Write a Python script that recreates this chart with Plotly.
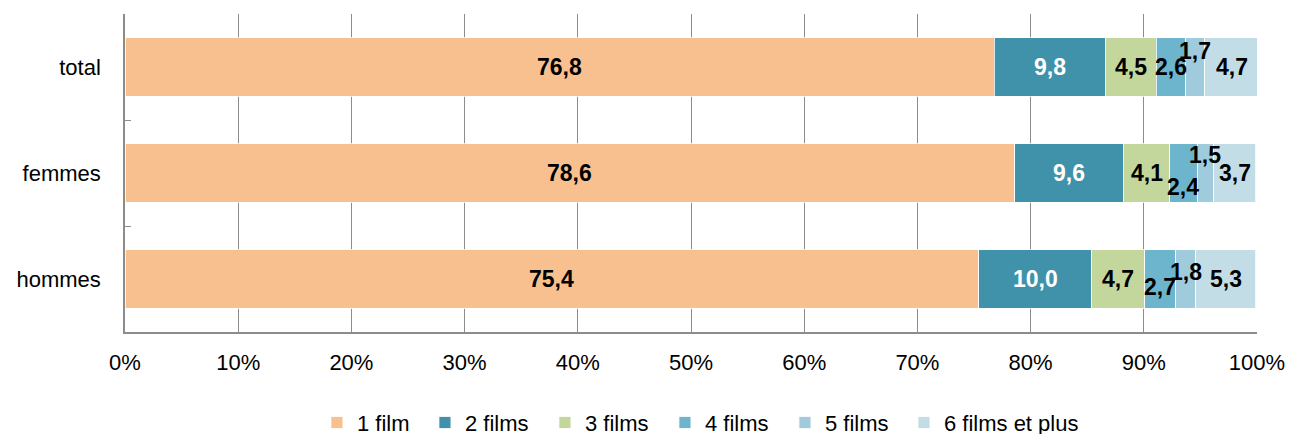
import plotly.graph_objects as go
import numpy as np

categories = ["total", "femmes", "hommes"]
series_names = ["1 film", "2 films", "3 films", "4 films", "5 films", "6 films et plus"]
v_1 = [76.8, 78.6, 75.4]
v_2 = [9.8, 9.6, 10.0]
v_3 = [4.5, 4.1, 4.7]
v_4 = [2.6, 2.4, 2.7]
v_5 = [1.7, 1.5, 1.8]
v_6 = [4.7, 3.7, 5.3]
x_ticks = [0, 10, 20, 30, 40, 50, 60, 70, 80, 90, 100]
x_tick_labels = ["0%", "10%", "20%", "30%", "40%", "50%", "60%", "70%", "80%", "90%", "100%"]

series = [v_1, v_2, v_3, v_4, v_5, v_6]
colors = ["#F9C08F", "#3F92AA", "#C3D69B", "#6CB5CC", "#A0CBDC", "#C3DDE6"]
label_colors = ["black", "white", "black", "black", "black", "black"]
legend_widths = [63, 75, 75, 75, 74, 150]  # px per legend entry (style)
# vertical label offsets (px) per series per category, to avoid overlap in thin segments
label_yshift = [
    [0, 0, 0],
    [0, 0, 0],
    [0, 0, 0],
    [0, -14, -8],
    [16, 18, 7],
    [0, 0, 0],
]

font = "Liberation Sans, Arial, sans-serif"
fig = go.Figure()
for name, vals, col, lw in zip(series_names, series, colors, legend_widths):
    fig.add_trace(go.Bar(
        y=categories, x=vals, name=name, orientation="h",
        marker=dict(color=col, line=dict(color="white", width=0.8)),
        hoverinfo="skip", legendwidth=lw,
    ))

cum = np.zeros(len(categories))
for si, vals in enumerate(series):
    v = np.array(vals)
    centers = cum + v / 2
    for ci, cat in enumerate(categories):
        fig.add_annotation(
            x=centers[ci], y=cat, text=f"{vals[ci]:.1f}".replace(".", ","),
            showarrow=False, yshift=label_yshift[si][ci],
            font=dict(family=font, size=23, color=label_colors[si], weight="bold"),
        )
    cum = cum + v

fig.update_layout(
    barmode="stack", bargap=0.45,
    width=1290, height=434,
    margin=dict(l=125, r=33, t=14, b=102, autoexpand=False),
    paper_bgcolor="white", plot_bgcolor="white",
    font=dict(family=font, size=22, color="black"),
    legend=dict(orientation="h", xref="container", x=0.2457, xanchor="left",
                yref="container", y=0.026, yanchor="middle",
                font=dict(size=22), traceorder="normal", itemwidth=30,
                tracegroupgap=0),
    showlegend=True,
)
fig.update_xaxes(
    range=[0, 100], tickvals=x_ticks, ticktext=x_tick_labels,
    showgrid=True, gridcolor="#8C8C8C", gridwidth=1,
    showline=True, linecolor="#8C8C8C", linewidth=1.5,
    ticks="outside", ticklen=10, tickcolor="rgba(0,0,0,0)",
    zeroline=False, fixedrange=True, automargin=False,
)
fig.update_yaxes(
    categoryorder="array", categoryarray=categories, autorange="reversed",
    showline=True, linecolor="#8C8C8C", linewidth=1.5,
    ticks="inside", tickson="boundaries", ticklen=6, tickcolor="#8C8C8C",
    showgrid=False, ticklabelstandoff=18, fixedrange=True, automargin=False,
)
fig.write_html("out.html", config={"displayModeBar": False},
               post_script="document.body.style.margin='0';document.body.style.overflow='hidden';")
